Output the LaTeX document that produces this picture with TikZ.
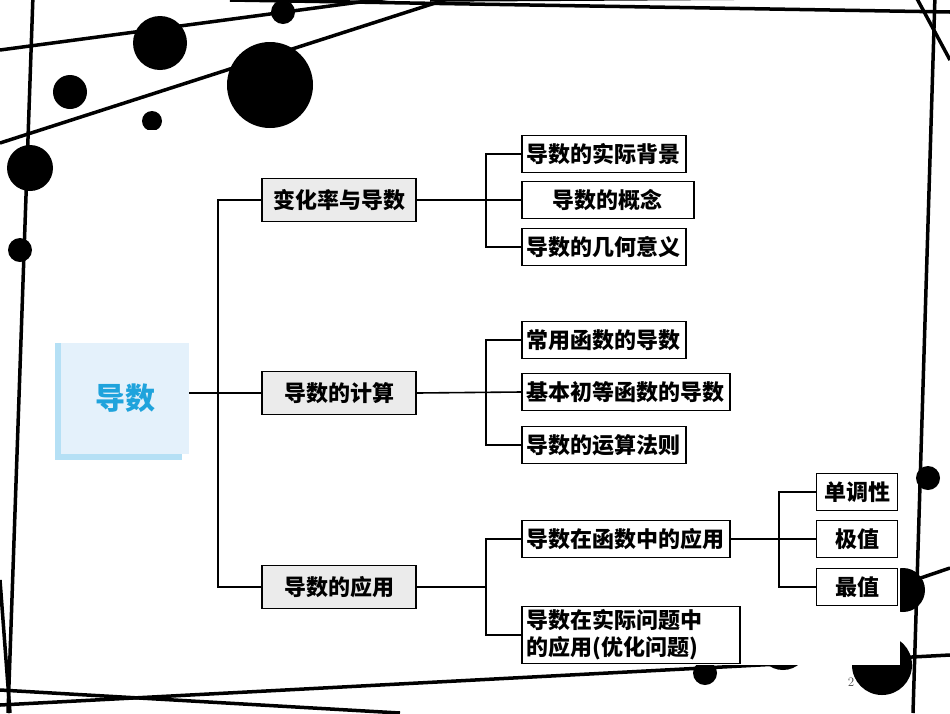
\documentclass[tikz,border=0pt]{standalone}
\usepackage{fontspec}
\newfontfamily\cjk{Noto Sans CJK SC}
\definecolor{rootfill}{HTML}{E4F1FB}
\definecolor{rootedge}{HTML}{B5E0F5}
\definecolor{roottext}{HTML}{1FA3DC}
\begin{document}
\begin{tikzpicture}[x=1pt,y=-1pt,
  bg/.style={line width=3.5pt,black},
  dot/.style={fill=black},
  conn/.style={line width=1.6pt},
  lv/.style={draw,line width=1.6pt,minimum height=37pt,inner xsep=5pt,font=\cjk\bfseries\fontsize{22}{26}\selectfont},
  lone/.style={lv,fill=black!8,minimum width=154pt,minimum height=43pt},
  ltwo/.style={lv,fill=white,anchor=west},
]
\useasboundingbox (0,0) rectangle (950,713);
\fill[white] (0,0) rectangle (950,713);
% background decoration
\draw[bg] (0,50) -- (420,-6);
\draw[bg] (0,143) -- (460,-5);
\draw[bg] (33,-5) -- (8,713);
\draw[bg] (230,0) -- (950,12);
\draw[bg] (430,0) -- (950,-3);
\draw[bg] (915,-5) -- (950,60);
\draw[bg] (0,705) -- (950,655);
\draw[bg] (0,690) -- (400,713);
\draw[bg] (935,-5) -- (913,713);
\draw[bg] (900,585) -- (950,568);
\draw[bg] (0,580) -- (10,713);
\foreach \p/\r in {{(160,43)}/27,{(283,12)}/12,{(270,85)}/43,{(70,92)}/17,{(152,121)}/10,{(30,168)}/23,{(20,250)}/12,{(928,478)}/12,{(903,590)}/22,{(882,665)}/30,{(705,673)}/12,{(783,645)}/25}
  \fill[dot] \p circle (\r);
% white panel
\fill[white] (55,130) rectangle (900,665);
\node[font=\fontsize{13}{15}\selectfont,text=black!70] (pg) at (851,682) {2};
% root
\fill[rootedge] (55,343) rectangle (182,460);
\fill[rootfill] (61,343) rectangle (189,454);
\node[font=\cjk\bfseries\fontsize{30}{34}\selectfont,text=roottext] (root) at (125,398) {导数};
\coordinate (rootR) at (189,393);
% level 1
\node[lone] (a) at (339,200) {变化率与导数};
\node[lone] (b) at (339,393) {导数的计算};
\node[lone] (c) at (339,587) {导数的应用};
\coordinate (t1) at (218,200);
\coordinate (t3) at (218,587);
\draw[conn] (a.west) -- (t1) -- (t3) -- (c.west);
\draw[conn] (rootR) -- (b.west);
% level 2
\node[ltwo] (a1) at (521,154) {导数的实际背景};
\node[ltwo,minimum width=172pt] (a2) at (521,200) {导数的概念};
\node[ltwo] (a3) at (521,247) {导数的几何意义};
\node[ltwo] (b1) at (521,340) {常用函数的导数};
\node[ltwo] (b2) at (521,392) {基本初等函数的导数};
\node[ltwo] (b3) at (521,445) {导数的运算法则};
\node[ltwo] (c1) at (521,539) {导数在函数中的应用};
\node[ltwo,align=left,text width=208pt,font=\cjk\bfseries\fontsize{22}{27}\selectfont,inner ysep=3pt] (c2) at (521,635) {导数在实际问题中\\的应用(优化问题)};
\coordinate (ba) at (486,200);
\coordinate (bb) at (486,392);
\coordinate (bc) at (486,587);
\draw[conn] (a.east) -- (a2.west);
\draw[conn] (a1.west) -| (ba) |- (a3.west);
\draw[conn] (b.east) -- (b2.west);
\draw[conn] (b1.west) -| (bb) |- (b3.west);
\draw[conn] (c.east) -- (bc);
\draw[conn] (c1.west) -| (bc) |- (c2.west);
% level 3
\node[lv,fill=white,minimum width=81pt] (d1) at (857,492) {单调性};
\node[lv,fill=white,minimum width=81pt] (d2) at (857,539) {极值};
\node[lv,fill=white,minimum width=81pt] (d3) at (857,587) {最值};
\coordinate (bd) at (779,539);
\draw[conn] (c1.east) -- (d2.west);
\draw[conn] (d1.west) -| (bd) |- (d3.west);
\end{tikzpicture}
\end{document}
